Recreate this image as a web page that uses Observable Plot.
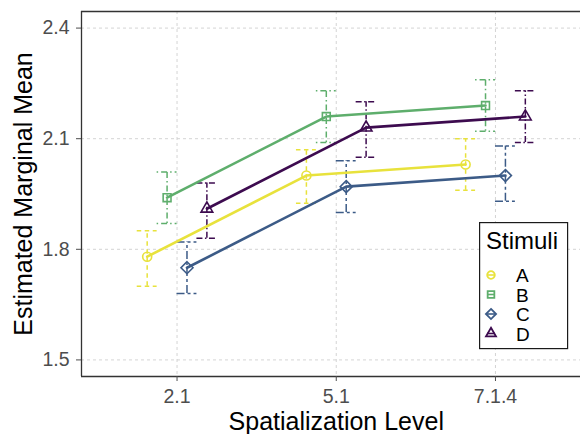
<!DOCTYPE html>
<html><head><meta charset="utf-8">
<script src="https://cdn.jsdelivr.net/npm/d3@7"></script>
<script src="https://cdn.jsdelivr.net/npm/@observablehq/plot@0.6"></script>
<style>
body{margin:0;background:#fff;}
#wrap{position:relative;width:580px;height:434px;overflow:hidden;font-family:"Liberation Sans",Arial,Helvetica,sans-serif;}
#legend{position:absolute;left:479px;top:222px;}
</style></head><body><div id="wrap"></div>
<script>
// ---- data ----
const levels = ["2.1", "5.1", "7.1.4"];
const stimuli = ["A", "B", "C", "D"];
const meanA = [1.78, 2.00, 2.03];
const lowA  = [1.70, 1.925, 1.96];
const highA = [1.85, 2.07, 2.10];
const meanB = [1.94, 2.16, 2.19];
const lowB  = [1.87, 2.09, 2.12];
const highB = [2.01, 2.23, 2.26];
const meanC = [1.75, 1.97, 2.00];
const lowC  = [1.68, 1.90, 1.93];
const highC = [1.82, 2.04, 2.08];
const meanD = [1.91, 2.13, 2.16];
const lowD  = [1.83, 2.05, 2.09];
const highD = [1.98, 2.20, 2.23];
const yTicks = [1.5, 1.8, 2.1, 2.4];

// ---- styles ----
const colors  = ["#e8e23c", "#5eae6c", "#3c5b87", "#3d0b4f"];
const symbols = ["circle", "square2", "diamond2", "triangle2"];
const symSize = [4.5, 5.0, 5.4, 5.6];
const d3symbols = [d3.symbolCircle, d3.symbolSquare2, d3.symbolDiamond2, d3.symbolTriangle2];
const dashes  = ["4.5,3.5", "1.5,3,6,3", "8,3,3,3", "6,2.5,1.5,2.5"];
const dodgeWidth = 0.5, capHalf = 0.0625;
const xDomain = [0.4, 3.534], yDomain = [1.455, 2.445];
const font = '"Liberation Sans", Arial, Helvetica, sans-serif';

const series = {A: [meanA, lowA, highA], B: [meanB, lowB, highB], C: [meanC, lowC, highC], D: [meanD, lowD, highD]};
const rows = [];
stimuli.forEach((s, k) => {
  const [m, lo, hi] = series[s];
  levels.forEach((lv, i) => {
    rows.push({stim: s, level: lv, pos: i + 1 + (k - 1.5) * dodgeWidth / stimuli.length, mean: m[i], lo: lo[i], hi: hi[i]});
  });
});

const errMarks = [], dotMarks = [];
stimuli.forEach((s, k) => {
  const d = rows.filter(r => r.stim === s);
  const st = {stroke: colors[k], strokeWidth: 1.5, strokeDasharray: dashes[k]};
  errMarks.push(Plot.ruleX(d, {x: "pos", y1: "lo", y2: "hi", ...st}));
  errMarks.push(Plot.ruleY(d, {y: "lo", x1: r => r.pos - capHalf, x2: r => r.pos + capHalf, ...st}));
  errMarks.push(Plot.ruleY(d, {y: "hi", x1: r => r.pos - capHalf, x2: r => r.pos + capHalf, ...st}));
  dotMarks.push(Plot.dot(d, {x: "pos", y: "mean", symbol: "stim", stroke: "stim", fill: "none", r: symSize[k], strokeWidth: 1.6}));
});

const chart = Plot.plot({
  width: 580, height: 434,
  marginLeft: 81, marginRight: 0, marginTop: 11, marginBottom: 58,
  style: {fontFamily: font, fontSize: "19px", background: "#fff", overflow: "hidden"},
  x: {domain: xDomain, label: null},
  y: {domain: yDomain, label: null},
  color: {domain: stimuli, range: colors},
  symbol: {domain: stimuli, range: symbols},
  marks: [
    Plot.gridY(yTicks, {stroke: "#cfcfcf", strokeOpacity: 1, strokeWidth: 0.9, strokeDasharray: "3,3"}),
    Plot.gridX([1, 2, 3], {stroke: "#cfcfcf", strokeOpacity: 1, strokeWidth: 0.9, strokeDasharray: "3,3"}),
    Plot.ruleY([yDomain[1]], {stroke: "#333", strokeWidth: 1.3}),
    Plot.ruleY([yDomain[0]], {stroke: "#333", strokeWidth: 1.3}),
    Plot.ruleX([xDomain[0]], {stroke: "#333", strokeWidth: 1.3}),
    Plot.axisY(yTicks, {tickSize: 5, tickPadding: 7, tickFormat: d3.format(".1f"), color: "#4d4d4d", fontSize: 19.5, label: null}),
    Plot.axisX([1, 2, 3], {tickSize: 5, tickPadding: 8, tickFormat: d => levels[d - 1], color: "#4d4d4d", fontSize: 19.5, label: null}),
    ...errMarks,
    Plot.line(rows, {x: "pos", y: "mean", z: "stim", stroke: "stim", strokeWidth: 2.6}),
    ...dotMarks,
    Plot.text(["Spatialization Level"], {x: () => (xDomain[0] + 3.6) / 2, frameAnchor: "bottom", textAnchor: "middle", lineAnchor: "middle", dy: 45, fontSize: 25, fill: "#000"}),
    Plot.text(["Estimated Marginal Mean"], {y: () => (yDomain[0] + yDomain[1]) / 2, frameAnchor: "left", textAnchor: "middle", lineAnchor: "middle", dx: -58, rotate: -90, fontSize: 25, fill: "#000"})
  ]
});
const wrap = document.getElementById("wrap");
wrap.appendChild(chart);

// ---- legend ----
const lg = d3.select(wrap).append("svg").attr("id", "legend").attr("width", 92).attr("height", 130);
lg.append("rect").attr("x", 0.6).attr("y", 0.6).attr("width", 88).attr("height", 126)
  .attr("fill", "#fff").attr("stroke", "#1a1a1a").attr("stroke-width", 1.2);
lg.append("text").attr("x", 7).attr("y", 27).attr("font-family", font).attr("font-size", 24).attr("fill", "#000").text("Stimuli");
stimuli.forEach((s, k) => {
  const cy = 53 + k * 19.5;
  const g = lg.append("g").attr("transform", `translate(12,${cy})`);
  g.append("line").attr("x1", -4).attr("x2", 4).attr("stroke", colors[k]).attr("stroke-width", 1.6);
  g.append("path").attr("d", d3.symbol(d3symbols[k], Math.PI * Math.pow(symSize[k] * 0.85, 2))()).attr("fill", "none")
    .attr("stroke", colors[k]).attr("stroke-width", 1.8);
  lg.append("text").attr("x", 37).attr("y", cy + 7).attr("font-family", font).attr("font-size", 19).attr("fill", "#000").text(s);
});
</script></body></html>
